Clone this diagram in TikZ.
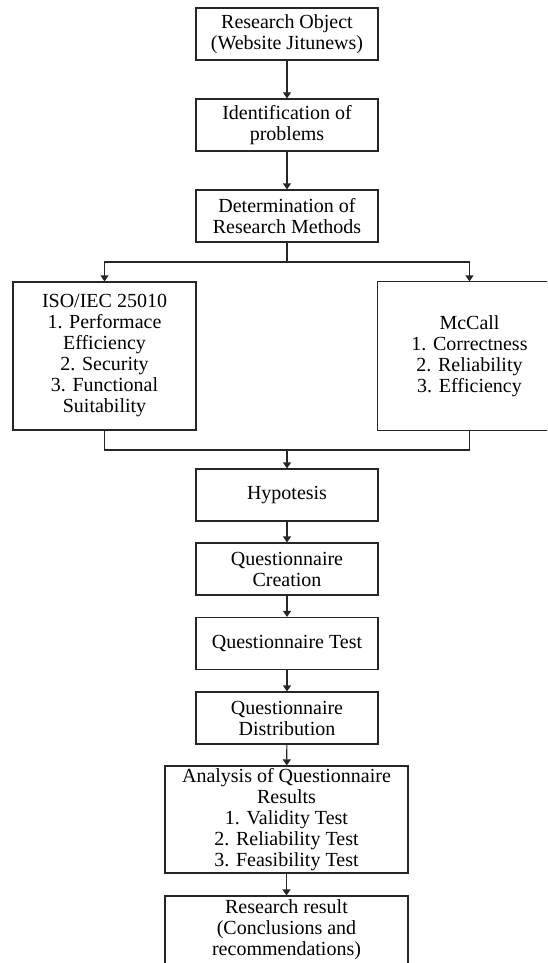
\documentclass[tikz,border=0pt]{standalone}
\usepackage{fontspec}
\setmainfont{Liberation Serif}
\usetikzlibrary{arrows.meta}

\begin{document}
\begin{tikzpicture}[
        x=0.5pt, y=-0.5pt,
        font=\fontsize{10}{10.5}\selectfont,
        stepbox/.style={draw=black!85, line width=0.6pt, inner sep=0pt, align=center,
                        minimum width=91pt, minimum height=26pt},
        widebox/.style={stepbox, minimum width=121.5pt},
        sidebox/.style={stepbox, minimum width=91.5pt, minimum height=74pt},
        line/.style={draw=black!85, line width=0.6pt},
        arrow/.style={line, -{Triangle[width=4pt, length=3pt]}}
    ]

    \clip (0,0) rectangle (547,963);

    % ==========================================
    % TOP: object, problems, methods
    % ==========================================
    \node[stepbox] (object) at (287,34) {Research Object\\(Website Jitunews)};
    \node[stepbox] (problem) at (287,125) {Identification of\\problems};
    \node[stepbox] (method) at (287,216) {Determination of\\Research Methods};

    \draw[arrow] (object) -- (problem);
    \draw[arrow] (problem) -- (method);

    % ==========================================
    % MIDDLE: the two models
    % ==========================================
    \node[sidebox] (iso) at (104.5,356) {ISO/IEC 25010\\1. Performace\\Efficiency\\2. Security\\3. Functional\\Suitability};
    \node[sidebox, draw=none] (mccall) at (469.5,356) {McCall\\1. Correctness\\2. Reliability\\3. Efficiency};
    % right box runs past the edge of the page
    \draw[line] ([xshift=40pt]mccall.north east) -- (mccall.north west)
        -- (mccall.south west) -- ([xshift=40pt]mccall.south east);

    \coordinate (split) at (287,262);
    \coordinate (join) at (287,450);

    \draw[line] (method) -- (split);
    \draw[arrow] (split) -| (iso.north);
    \draw[arrow] (split) -| (mccall.north);

    \draw[line] (iso.south) |- (join) -| (mccall.south);

    % ==========================================
    % BOTTOM: hypothesis to result
    % ==========================================
    \node[stepbox] (hypo) at (287,495) {Hypotesis};
    \node[stepbox] (create) at (287,569) {Questionnaire\\Creation};
    \node[stepbox] (qtest) at (287,643.5) {Questionnaire Test};
    \node[stepbox] (distrib) at (287,718) {Questionnaire\\Distribution};
    \node[widebox, minimum height=53.5pt] (analysis) at (286.5,819.5) {Analysis of Questionnaire\\Results\\1. Validity Test\\2. Reliability Test\\3. Feasibility Test};
    \node[widebox, minimum height=34pt] (result) at (286.5,930) {Research result\\(Conclusions and\\recommendations)};

    \draw[arrow] (join) -- (hypo);
    \draw[arrow] (hypo) -- (create);
    \draw[arrow] (create) -- (qtest);
    \draw[arrow] (qtest) -- (distrib);
    \draw[arrow] (distrib) -- (analysis);
    \draw[arrow] (analysis) -- (result);

\end{tikzpicture}
\end{document}
